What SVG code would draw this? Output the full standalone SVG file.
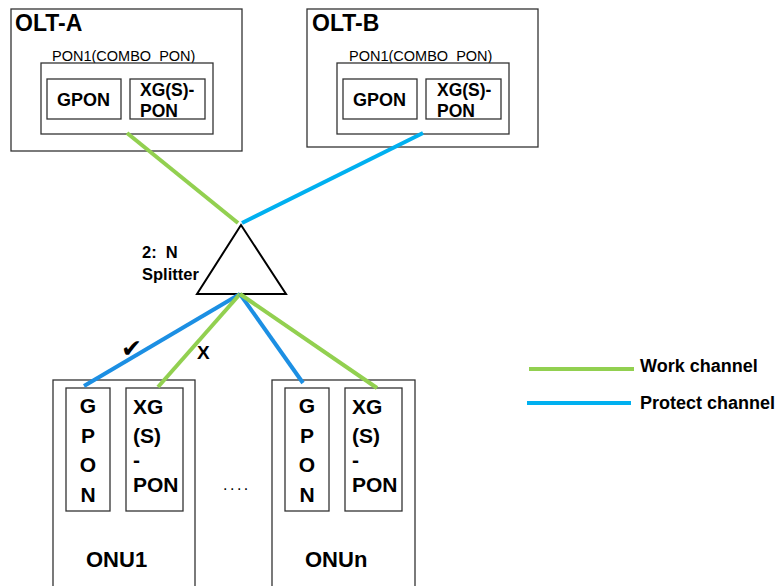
<svg xmlns="http://www.w3.org/2000/svg" width="778" height="586" viewBox="0 0 778 586">
  <style>
    .box { fill: #fff; stroke: #333; stroke-width: 1.3; }
    .t { font-family: "Liberation Sans", Arial, sans-serif; fill: #000; }
    .b { font-weight: bold; }
    .work { stroke: #92D050; stroke-width: 4; fill: none; }
    .prot { stroke: #00B0F0; stroke-width: 4; fill: none; }
    .prot2 { stroke: #1C8FE3; stroke-width: 4; fill: none; }
  </style>
  <rect width="778" height="586" fill="#fff"/>

  <!-- OLT A -->
  <g id="olt-a">
    <rect class="box" x="11" y="9" width="231" height="142"/>
    <text class="t b" x="15" y="31" font-size="23">OLT-A</text>
    <text class="t" x="52" y="61" font-size="14.5">PON1(COMBO&#160;&#160;PON)</text>
    <rect class="box" x="41" y="63" width="172" height="71"/>
    <rect class="box" x="47" y="79" width="74" height="40"/>
    <text class="t b" x="57" y="106" font-size="18">GPON</text>
    <rect class="box" x="130" y="79" width="75" height="40"/>
    <text class="t b" x="140" y="96" font-size="17.5">XG(S)-</text>
    <text class="t b" x="140" y="117" font-size="17.5">PON</text>
  </g>

  <!-- OLT B -->
  <g id="olt-b">
    <rect class="box" x="307" y="9" width="231" height="138"/>
    <text class="t b" x="312" y="31" font-size="23">OLT-B</text>
    <text class="t" x="349" y="61" font-size="14.5">PON1(COMBO&#160;&#160;PON)</text>
    <rect class="box" x="337" y="63" width="172" height="71"/>
    <rect class="box" x="343" y="79" width="74" height="40"/>
    <text class="t b" x="353" y="106" font-size="18">GPON</text>
    <rect class="box" x="426" y="79" width="75" height="40"/>
    <text class="t b" x="437" y="96" font-size="17.5">XG(S)-</text>
    <text class="t b" x="437" y="117" font-size="17.5">PON</text>
  </g>

  <!-- ONU 1 -->
  <g id="onu1">
    <rect class="box" x="53" y="380" width="142" height="215"/>
    <rect class="box" x="66" y="388" width="44" height="123"/>
    <text class="t b" font-size="21" text-anchor="middle">
      <tspan x="88" y="413">G</tspan><tspan x="88" y="443">P</tspan><tspan x="88" y="472">O</tspan><tspan x="88" y="502">N</tspan>
    </text>
    <rect class="box" x="126" y="388" width="57" height="123"/>
    <text class="t b" font-size="21">
      <tspan x="133" y="414">XG</tspan><tspan x="133" y="443">(S)</tspan><tspan x="133" y="467">-</tspan><tspan x="133" y="492">PON</tspan>
    </text>
    <text class="t b" x="86" y="567" font-size="22">ONU1</text>
  </g>

  <!-- ONU n -->
  <g id="onun">
    <rect class="box" x="272" y="380" width="143" height="215"/>
    <rect class="box" x="285" y="388" width="44" height="123"/>
    <text class="t b" font-size="21" text-anchor="middle">
      <tspan x="307" y="413">G</tspan><tspan x="307" y="443">P</tspan><tspan x="307" y="472">O</tspan><tspan x="307" y="502">N</tspan>
    </text>
    <rect class="box" x="345" y="388" width="57" height="123"/>
    <text class="t b" font-size="21">
      <tspan x="352" y="414">XG</tspan><tspan x="352" y="443">(S)</tspan><tspan x="352" y="467">-</tspan><tspan x="352" y="492">PON</tspan>
    </text>
    <text class="t b" x="305" y="567" font-size="22">ONUn</text>
  </g>

  <text class="t" x="223" y="490" font-size="16" letter-spacing="2.5">....</text>

  <!-- splitter -->
  <g id="splitter">
    <polygon points="241,225 197,294 286,294" fill="#fff" stroke="#000" stroke-width="2"/>
    <text class="t b" x="142" y="258" font-size="16.5">2:&#160;&#160;N</text>
    <text class="t b" x="142" y="280" font-size="16.5">Splitter</text>
  </g>

  <!-- fibres -->
  <g id="connectors">
    <line class="work" x1="127" y1="133" x2="238" y2="223"/>
    <line class="prot" x1="423" y1="133" x2="242" y2="223"/>
    <line class="prot2" x1="240" y1="294" x2="84" y2="386"/>
    <line class="work" x1="240" y1="294" x2="158" y2="387"/>
    <line class="prot2" x1="240" y1="294" x2="303" y2="383"/>
    <line class="work" x1="240" y1="294" x2="377" y2="388"/>
  </g>

  <text x="121" y="357" font-size="25" font-family="DejaVu Sans, sans-serif" fill="#000">✔</text>
  <text class="t b" x="197" y="359" font-size="19">X</text>

  <!-- legend -->
  <g id="legend">
    <line class="work" x1="529" y1="369" x2="634" y2="369"/>
    <text class="t b" x="640" y="372" font-size="18">Work channel</text>
    <line class="prot" x1="527" y1="403" x2="631" y2="403"/>
    <text class="t b" x="640" y="409" font-size="18">Protect channel</text>
  </g>
</svg>
